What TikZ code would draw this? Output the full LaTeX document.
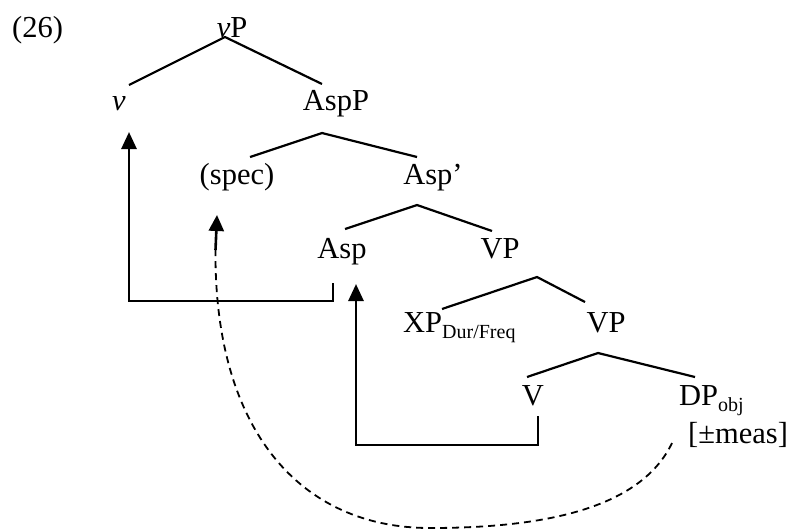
\documentclass[tikz,border=0pt]{standalone}
\usepackage{fontspec}
\setmainfont{Liberation Serif}
\usetikzlibrary{arrows.meta}
\begin{document}
\begin{tikzpicture}[x=1pt,y=-1pt,
  lab/.style={inner sep=0pt,anchor=base,font=\fontsize{30.5}{36}\selectfont},
  labw/.style={lab,anchor=base west},
  branch/.style={line width=2.2pt},
  mv/.style={line width=2.8pt,-{Triangle[length=17pt,width=15pt]}},
  dmv/.style={line width=1.8pt,dash pattern=on 7pt off 5pt},
  dtip/.style={line width=2.6pt,-{Triangle[length=16pt,width=15pt]}}]
\useasboundingbox (0,0) rectangle (792,531);
\newcommand{\sbs}[1]{\raisebox{-6pt}{\fontsize{20}{24}\selectfont #1}}
% labels
\node[labw] (ex) at (12,37) {(26)};
\node[lab] (vP) at (232,37) {\textit{v}P};
\node[lab] (v) at (119,110) {\textit{v}};
\node[lab] (AspP) at (336,110) {AspP};
\node[lab] (spec) at (237,184) {(spec)};
\node[lab] (Aspb) at (433,184) {Asp’};
\node[lab] (Asp) at (342,258) {Asp};
\node[lab] (VP1) at (500,258) {VP};
\node[labw] (XP) at (403,332) {XP\sbs{Dur/Freq}};
\node[lab] (VP2) at (606,332) {VP};
\node[lab] (V) at (533,405) {V};
\node[labw] (DP) at (679,405) {DP\sbs{obj}};
\node[labw] (meas) at (688,443) {[±meas]};
% branch coordinates
\coordinate (t1) at (225,37);  \coordinate (l1) at (129,85);  \coordinate (r1) at (322,84);
\coordinate (t2) at (322,133); \coordinate (l2) at (250,157); \coordinate (r2) at (417,157);
\coordinate (t3) at (417,205); \coordinate (l3) at (345,229); \coordinate (r3) at (492,231);
\coordinate (t4) at (537,277); \coordinate (l4) at (442,309); \coordinate (r4) at (585,302);
\coordinate (t5) at (598,353); \coordinate (l5) at (527,377); \coordinate (r5) at (695,377);
\draw[branch] (l1) -- (t1) -- (r1);
\draw[branch] (l2) -- (t2) -- (r2);
\draw[branch] (l3) -- (t3) -- (r3);
\draw[branch] (l4) -- (t4) -- (r4);
\draw[branch] (l5) -- (t5) -- (r5);
% movement arrows
\coordinate (a1s) at (333,283); \coordinate (a1c) at (333,301);
\coordinate (a1d) at (129,301); \coordinate (a1t) at (129,132);
\draw[mv] (a1s) -- (a1c) -- (a1d) -- (a1t);
\coordinate (a2s) at (538,416); \coordinate (a2c) at (538,445);
\coordinate (a2d) at (356,445); \coordinate (a2t) at (356,284);
\draw[mv] (a2s) -- (a2c) -- (a2d) -- (a2t);
\coordinate (d0) at (672,443); \coordinate (d1) at (430,528);
\coordinate (d3) at (215.5,250); \coordinate (d2) at (217,215);
\draw[dmv] (d0) .. controls (640,510) and (540,528) .. (d1)
  .. controls (300,528) and (214,430) .. (d3);
\draw[dtip] (d3) -- (d2);
\end{tikzpicture}
\end{document}
